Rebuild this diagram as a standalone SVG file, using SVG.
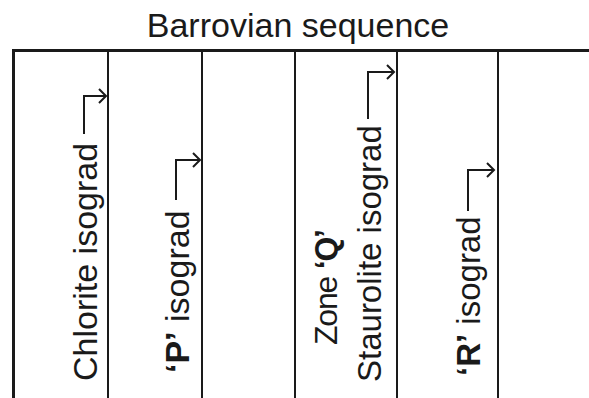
<svg xmlns="http://www.w3.org/2000/svg" width="589" height="398" viewBox="0 0 589 398">
<style>
.t{font-family:"Liberation Sans",Arial,sans-serif;font-size:34px;fill:#1a1a1a}
.b{font-weight:bold}
.ln{stroke:#1a1a1a;fill:none}
.ar{stroke:#1a1a1a;stroke-width:2;fill:none}
</style>
<rect width="589" height="398" fill="#fff"/>
<g id="title"><text class="t" x="298" y="37" text-anchor="middle">Barrovian sequence</text></g>
<g id="frame">
<path class="ln" stroke-width="3" d="M13.5 398 V50.5 H589"/>
<path class="ln" stroke-width="2" d="M108 50 V398 M202 50 V398 M295 50 V398 M397 50 V398 M498 50 V398"/>
</g>
<g id="chlorite"><text class="t" transform="translate(97,381) rotate(-90)">Chlorite isograd</text></g>
<g id="p-isograd"><text class="t" transform="translate(189,373) rotate(-90)"><tspan class="b">‘P’</tspan> isograd</text></g>
<g id="zone-q"><text class="t" style="font-size:32px" textLength="116" transform="translate(337,345) rotate(-90)">Zone <tspan class="b">‘Q’</tspan></text></g>
<g id="staurolite"><text class="t" style="font-size:33px" transform="translate(381,382) rotate(-90)">Staurolite isograd</text></g>
<g id="r-isograd"><text class="t" style="font-size:33px" transform="translate(480,376) rotate(-90)"><tspan class="b">‘R’</tspan> isograd</text></g>
<g id="connectors">
<path class="ar" d="M84 134 V96 H105 M99 89 L106 96 L99 103"/>
<path class="ar" d="M176 200 V160 H199 M193 153 L200 160 L193 167"/>
<path class="ar" d="M368 119 V72 H393 M387 65 L394 72 L387 79"/>
<path class="ar" d="M468 211 V170 H493 M487 163 L494 170 L487 177"/>
</g>
</svg>
